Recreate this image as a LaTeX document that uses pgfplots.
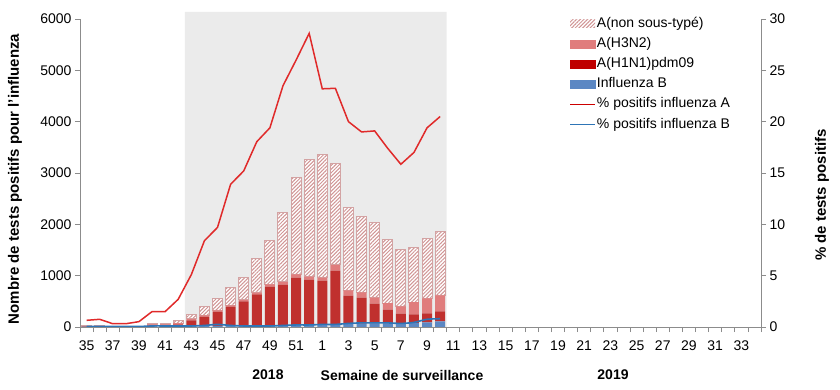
\documentclass[border=0pt]{standalone}
\usepackage{fontspec}
\setmainfont{Liberation Sans}
\usepackage{pgfplots}
\pgfplotsset{compat=1.18}
\usepackage{pgfplotstable}
\usetikzlibrary{patterns.meta}

\definecolor{bgc}{HTML}{EBEBEB}
\definecolor{h1c}{HTML}{C0302E}
\definecolor{h3c}{HTML}{E07D7D}
\definecolor{bc}{HTML}{5B87C3}
\definecolor{hatc}{HTML}{D09494}
\definecolor{hatb}{HTML}{D3A3A3}
\definecolor{linea}{HTML}{E02A2A}
\definecolor{lineb}{HTML}{2E75B6}
\definecolor{axc}{HTML}{8C8C8C}

\pgfplotstableread{
i B H1 H3 U
0 8 4 3 5
1 8 5 10 5
2 5 3 2 2
3 6 3 3 3
4 7 4 4 3
5 10 10 30 10
6 10 12 30 10
7 15 35 25 45
8 15 115 30 75
9 15 185 27 178
10 20 280 25 233
11 20 376 26 353
12 25 475 26 448
13 25 611 33 669
14 30 756 45 859
15 30 795 52 1362
16 35 926 65 1894
17 40 882 58 2291
18 45 857 59 2401
19 50 1047 111 1979
20 60 550 104 1622
21 65 506 104 1486
22 70 384 117 1467
23 70 268 129 1240
24 75 185 143 1109
25 80 167 240 1064
26 90 176 292 1168
27 110 195 312 1246
}\bars

\pgfplotstableread{
i A Bp
0 0.65 0.05
1 0.75 0.05
2 0.32 0.05
3 0.32 0.05
4 0.52 0.05
5 1.5 0.1
6 1.5 0.1
7 2.7 0.1
8 5.1 0.1
9 8.4 0.15
10 9.7 0.25
11 13.9 0.15
12 15.2 0.1
13 18.05 0.1
14 19.4 0.1
15 23.5 0.15
16 26.0 0.2
17 28.6 0.2
18 23.2 0.25
19 23.25 0.25
20 20.0 0.35
21 19.0 0.4
22 19.1 0.4
23 17.4 0.4
24 15.85 0.35
25 17.0 0.45
26 19.4 0.75
27 20.5 0.8
}\pct

\pgfplotsset{
  base/.style={
    at={(0,0)}, anchor=south west,
    scale only axis, width=681bp, height=308bp,
    xmin=-0.5, xmax=51.5,
    axis line style={draw=axc, line width=0.8bp, -},
    tick style={draw=axc, line width=0.8bp},
    tick align=outside,
    major tick length=5bp, minor tick length=5bp,
    /pgf/number format/assume math mode=true,
    /pgf/number format/1000 sep={},
    ticklabel style={font=\fontsize{14bp}{16bp}\selectfont},
  }
}

\begin{document}
\begin{tikzpicture}[font=\fontsize{14bp}{16bp}\selectfont]
\useasboundingbox (-80bp,-63bp) rectangle (760bp,327bp);
% background shading (season period)
\begin{axis}[base, ymin=0, ymax=6000, hide axis, clip=false]
\addplot[fill=bgc, draw=none] coordinates {(7.5,0) (7.5,6140) (27.5,6140) (27.5,0)} \closedcycle;
\end{axis}
% stacked bars
\begin{axis}[base, ymin=0, ymax=6000,
  axis x line*=bottom, axis y line*=left,
  xtick={0,2,...,50},
  xticklabels={35,37,39,41,43,45,47,49,51,1,3,5,7,9,11,13,15,17,19,21,23,25,27,29,31,33},
  xticklabel style={yshift=-5bp},
  minor xtick={-0.5,0.5,...,51.5},
  major x tick style={draw=none},
  ytick={0,1000,...,6000},
  ybar stacked, bar width=10bp,
]
\addplot[fill=bc, draw=none] table[x=i,y=B]{\bars};
\addplot[fill=h1c, draw=none] table[x=i,y=H1]{\bars};
\addplot[fill=h3c, draw=none] table[x=i,y=H3]{\bars};
\addplot[fill=white, draw=hatb, line width=1bp,
  postaction={pattern={Lines[angle=45,distance=2.6bp,line width=1bp]}, pattern color=hatc}]
  table[x=i,y=U]{\bars};
\end{axis}
% percentage lines
\begin{axis}[base, ymin=0, ymax=30,
  axis x line=none, axis y line*=right,
  ytick={0,5,...,30},
  legend cell align=left,
  legend style={draw=none, fill=none, at={(0.714,1.025)}, anchor=north west,
    font=\fontsize{14bp}{16bp}\selectfont, row sep=0pt,
    nodes={text height=10bp, text depth=3bp, inner ysep=3.6bp, inner xsep=1bp}},
]
\addlegendimage{draw=none, legend image code/.code={\path[fill=white, draw=none] (0bp,-4bp) rectangle (25bp,4bp);
  \path[draw=none, pattern={Lines[angle=45,distance=2.6bp,line width=1bp]}, pattern color=hatc] (0bp,-4bp) rectangle (25bp,4bp);}}
\addlegendentry{A(non sous-typé)}
\addlegendimage{legend image code/.code={\fill[h3c] (0bp,-4bp) rectangle (25bp,4bp);}}
\addlegendentry{A(H3N2)}
\addlegendimage{legend image code/.code={\fill[red!75!black] (0bp,-4bp) rectangle (25bp,4bp);}}
\addlegendentry{A(H1N1)pdm09}
\addlegendimage{legend image code/.code={\fill[bc] (0bp,-4bp) rectangle (25bp,4bp);}}
\addlegendentry{Influenza B}
\addplot[linea, line width=1.5bp, mark=none,
  legend image code/.code={\draw[red!80!black, line width=1.5bp] (0bp,0bp) -- (25bp,0bp);}] table[x=i,y=A]{\pct};
\addlegendentry{\% positifs influenza A}
\addplot[lineb, line width=1.6bp, mark=none, smooth,
  legend image code/.code={\draw[lineb, line width=1.5bp] (0bp,0bp) -- (25bp,0bp);}] table[x=i,y=Bp]{\pct};
\addlegendentry{\% positifs influenza B}
\end{axis}
\node[rotate=90, font=\fontsize{15bp}{17bp}\selectfont\bfseries] at (-65bp,148bp) {Nombre de tests positifs pour l'influenza};
\node[rotate=90, font=\fontsize{15bp}{17bp}\selectfont\bfseries] at (742bp,132bp) {\% de tests positifs};
\node[font=\fontsize{14bp}{16bp}\selectfont\bfseries] at (188bp,-48bp) {2018};
\node[font=\fontsize{14bp}{16bp}\selectfont\bfseries] at (322bp,-48bp) {Semaine de surveillance};
\node[font=\fontsize{14bp}{16bp}\selectfont\bfseries] at (533bp,-48bp) {2019};
\end{tikzpicture}
\end{document}
